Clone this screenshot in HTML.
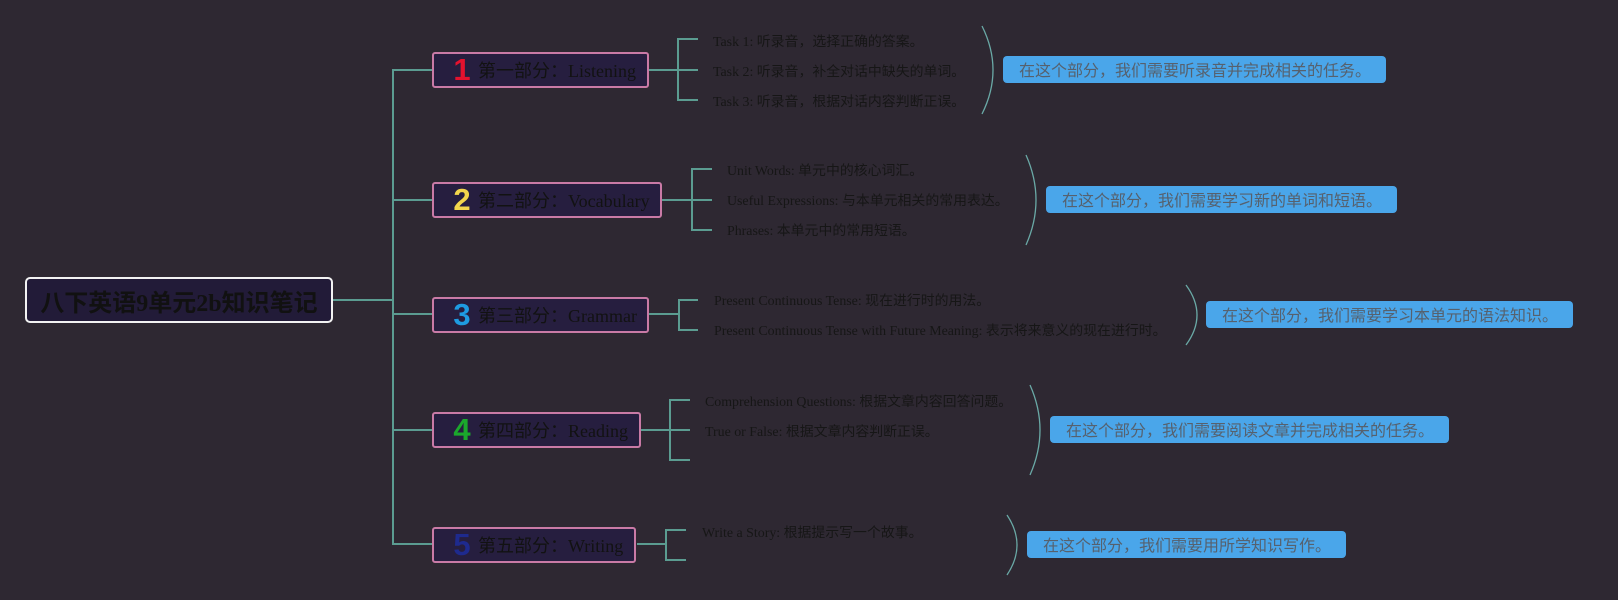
<!DOCTYPE html>
<html>
<head>
<meta charset="utf-8">
<style>
  html,body{margin:0;padding:0;}
  body{width:1618px;height:600px;background:#2e2832;position:relative;overflow:hidden;
    font-family:"Liberation Serif","Noto Sans CJK SC",sans-serif;}
  svg{position:absolute;left:0;top:0;}
  .title{position:absolute;left:25px;top:277px;width:304px;height:42px;border:2px solid #f2f2f2;border-radius:5px;
    background:#221b38;color:#111;font-family:"Liberation Serif","Noto Sans CJK SC",sans-serif;font-weight:bold;font-size:24px;
    display:flex;align-items:center;justify-content:center;box-sizing:content-box;}
  .node{position:absolute;left:432px;height:32px;border:2px solid #c97aa6;border-radius:3px;background:#261e3f;
    color:#121212;font-size:18px;display:flex;align-items:center;white-space:nowrap;}
  .num{font-family:"Liberation Sans",sans-serif;font-weight:bold;font-size:31px;width:24px;text-align:center;margin-left:16px;margin-right:4px;line-height:32px;}
  .t{position:absolute;font-size:13.9px;color:#161616;white-space:nowrap;line-height:16px;height:16px;}
  .b{position:absolute;height:27px;background:#4aa6ea;border-radius:4px;color:#56616e;font-family:"Noto Sans CJK SC",sans-serif;
    font-size:16px;line-height:27px;padding-left:16px;box-sizing:border-box;white-space:nowrap;}
</style>
</head>
<body>
<svg width="1618" height="600" viewBox="0 0 1618 600">
  <g stroke="#5b9c91" stroke-width="2" fill="none">
    <line x1="333" y1="300" x2="393" y2="300"/>
    <line x1="393" y1="69" x2="393" y2="545"/>
    <line x1="393" y1="70" x2="432" y2="70"/>
    <line x1="393" y1="200" x2="432" y2="200"/>
    <line x1="393" y1="314" x2="432" y2="314"/>
    <line x1="393" y1="430" x2="432" y2="430"/>
    <line x1="393" y1="544" x2="432" y2="544"/>
    <line x1="649" y1="70" x2="698" y2="70"/>
    <polyline points="698,39 678,39 678,100 698,100"/>
    <line x1="662" y1="200" x2="712" y2="200"/>
    <polyline points="712,169 692,169 692,230 712,230"/>
    <line x1="649" y1="314" x2="679" y2="314"/>
    <polyline points="698,300 679,300 679,330 698,330"/>
    <line x1="641" y1="430" x2="690" y2="430"/>
    <polyline points="690,400 670,400 670,460 690,460"/>
    <line x1="637" y1="544" x2="666" y2="544"/>
    <polyline points="686,530 666,530 666,560 686,560"/>
  </g>
  <g stroke="#6aa9a6" stroke-width="1.3" fill="none">
    <path d="M982,26 Q1004,70 982,114"/>
    <path d="M1026,155 Q1046,200 1026,245"/>
    <path d="M1186,285 Q1208,315 1186,345"/>
    <path d="M1030,385 Q1050,430 1030,475"/>
    <path d="M1007,515 Q1027,545 1007,575"/>
  </g>
</svg>

<div class="title">八下英语9单元2b知识笔记</div>

<div class="node" style="top:52px;width:213px;"><span class="num" style="color:#e3122e;">1</span>第一部分：Listening</div>
<div class="node" style="top:182px;width:226px;"><span class="num" style="color:#f3d64c;">2</span>第二部分：Vocabulary</div>
<div class="node" style="top:297px;width:213px;"><span class="num" style="color:#1e9be2;">3</span>第三部分：Grammar</div>
<div class="node" style="top:412px;width:205px;"><span class="num" style="color:#1ba82c;">4</span>第四部分：Reading</div>
<div class="node" style="top:527px;width:200px;"><span class="num" style="color:#1e2a8e;">5</span>第五部分：Writing</div>

<div class="t" style="left:713px;top:35px;">Task 1: 听录音，选择正确的答案。</div>
<div class="t" style="left:713px;top:65px;">Task 2: 听录音，补全对话中缺失的单词。</div>
<div class="t" style="left:713px;top:95px;">Task 3: 听录音，根据对话内容判断正误。</div>

<div class="t" style="left:727px;top:164px;">Unit Words: 单元中的核心词汇。</div>
<div class="t" style="left:727px;top:194px;">Useful Expressions: 与本单元相关的常用表达。</div>
<div class="t" style="left:727px;top:224px;">Phrases: 本单元中的常用短语。</div>

<div class="t" style="left:714px;top:294px;">Present Continuous Tense: 现在进行时的用法。</div>
<div class="t" style="left:714px;top:324px;">Present Continuous Tense with Future Meaning: 表示将来意义的现在进行时。</div>

<div class="t" style="left:705px;top:395px;">Comprehension Questions: 根据文章内容回答问题。</div>
<div class="t" style="left:705px;top:425px;">True or False: 根据文章内容判断正误。</div>

<div class="t" style="left:702px;top:526px;">Write a Story: 根据提示写一个故事。</div>

<div class="b" style="left:1003px;top:56px;width:383px;">在这个部分，我们需要听录音并完成相关的任务。</div>
<div class="b" style="left:1046px;top:186px;width:351px;">在这个部分，我们需要学习新的单词和短语。</div>
<div class="b" style="left:1206px;top:301px;width:367px;">在这个部分，我们需要学习本单元的语法知识。</div>
<div class="b" style="left:1050px;top:416px;width:399px;">在这个部分，我们需要阅读文章并完成相关的任务。</div>
<div class="b" style="left:1027px;top:531px;width:319px;">在这个部分，我们需要用所学知识写作。</div>
</body>
</html>
